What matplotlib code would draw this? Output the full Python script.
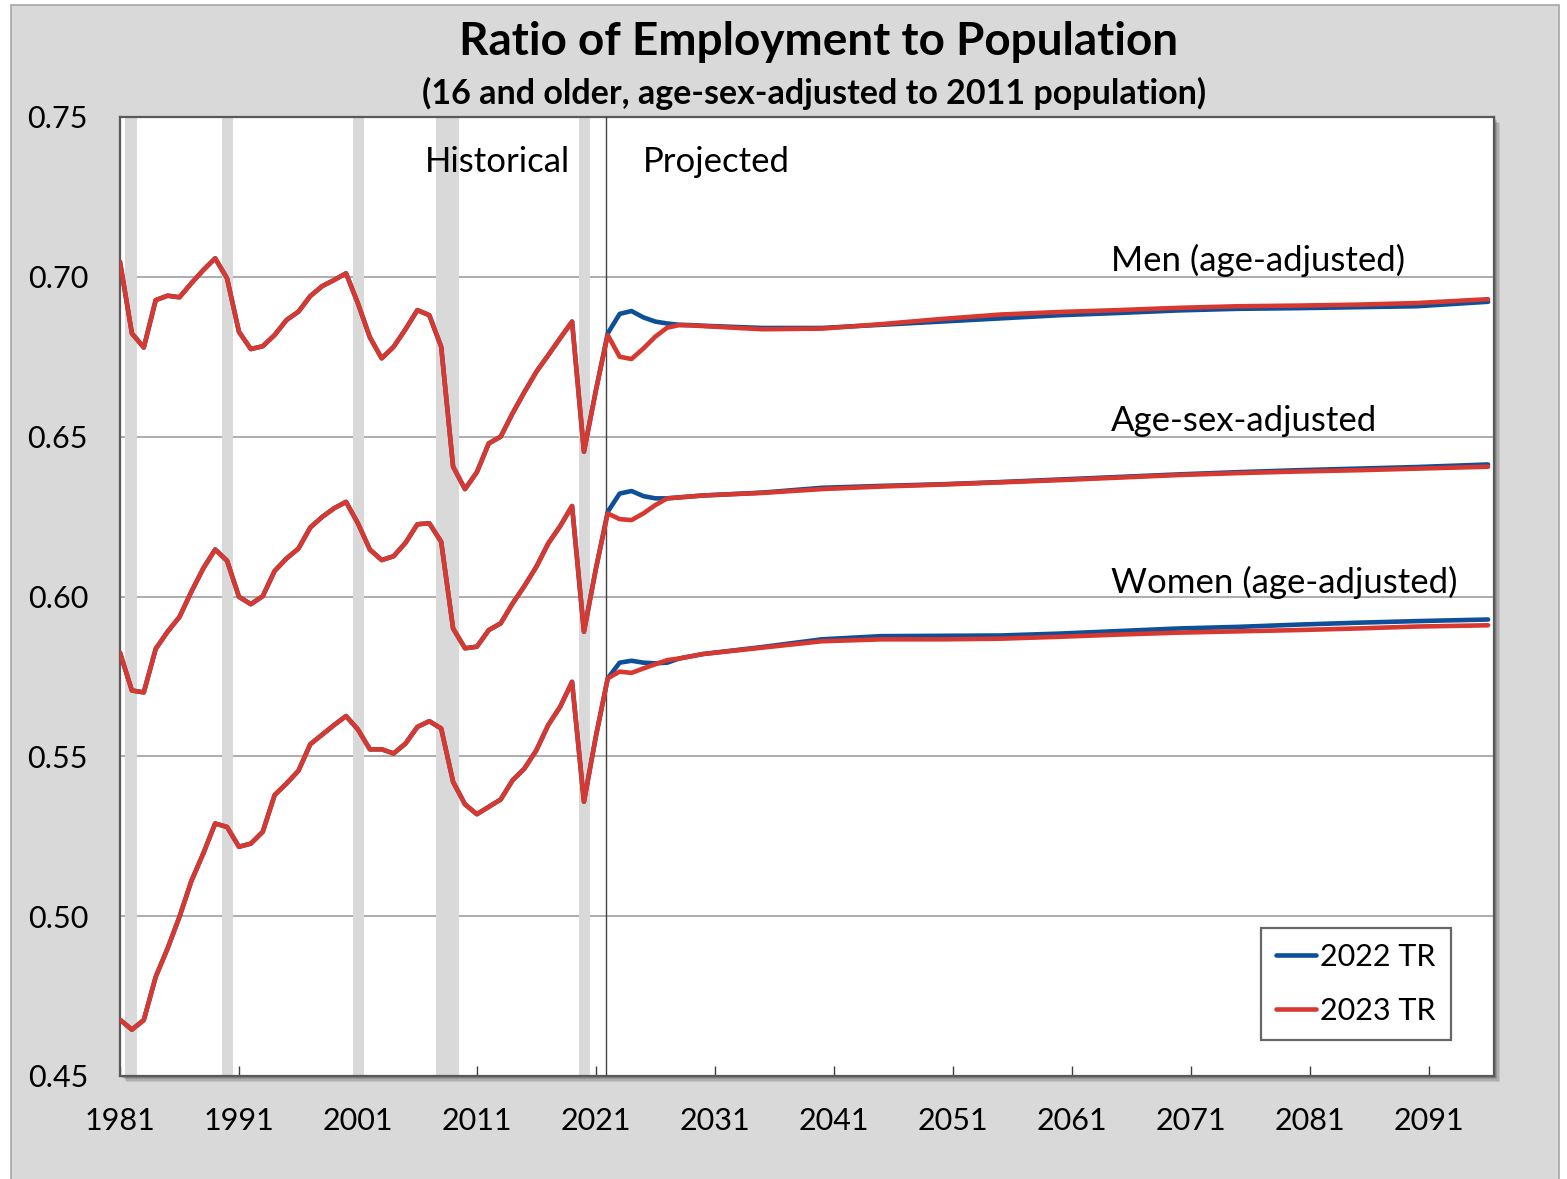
import matplotlib
matplotlib.use("Agg")
import matplotlib.pyplot as plt
from matplotlib.patches import Rectangle
import numpy as np

plt.rcParams['font.family'] = ['Lato', 'DejaVu Sans']

# ---------------- data ----------------
hist_years = list(range(1981, 2022))
men_hist = [0.7047, 0.6823, 0.6779, 0.6927, 0.6941, 0.6936, 0.6980, 0.7021, 0.7058, 0.6995,
            0.6828, 0.6774, 0.6783, 0.6818, 0.6865, 0.6891, 0.6940, 0.6971, 0.6990, 0.7011,
            0.6917, 0.6811, 0.6745, 0.6781, 0.6836, 0.6896, 0.6880, 0.6781, 0.6406, 0.6336,
            0.6389, 0.6479, 0.6500, 0.6573, 0.6640, 0.6703, 0.6755, 0.6808, 0.6860, 0.6453,
            0.6644]
agesex_hist = [0.5824, 0.5706, 0.5700, 0.5836, 0.5890, 0.5936, 0.6015, 0.6088, 0.6147, 0.6112,
               0.5999, 0.5976, 0.6001, 0.6080, 0.6119, 0.6150, 0.6216, 0.6249, 0.6276, 0.6296,
               0.6229, 0.6147, 0.6114, 0.6126, 0.6168, 0.6226, 0.6229, 0.6171, 0.5900, 0.5838,
               0.5843, 0.5895, 0.5916, 0.5978, 0.6033, 0.6093, 0.6166, 0.6220, 0.6283, 0.5890,
               0.6086]
women_hist = [0.4676, 0.4645, 0.4675, 0.4810, 0.4899, 0.4998, 0.5110, 0.5196, 0.5290, 0.5279,
              0.5217, 0.5227, 0.5264, 0.5379, 0.5415, 0.5455, 0.5538, 0.5568, 0.5598, 0.5626,
              0.5584, 0.5522, 0.5522, 0.5509, 0.5540, 0.5592, 0.5610, 0.5587, 0.5420, 0.5350,
              0.5319, 0.5342, 0.5365, 0.5425, 0.5462, 0.5519, 0.5598, 0.5655, 0.5733, 0.5358,
              0.5562]

proj_years = [2022, 2023, 2024, 2025, 2026, 2027, 2028, 2029, 2030, 2035, 2040,
              2045, 2050, 2055, 2060, 2065, 2070, 2075, 2080, 2085, 2090, 2096]
men_2022tr = [0.6823, 0.6884, 0.6893, 0.6873, 0.6860, 0.6854, 0.6850, 0.6849, 0.6847, 0.6840, 0.6840,
              0.6850, 0.6860, 0.6870, 0.6880, 0.6887, 0.6895, 0.6900, 0.6902, 0.6905, 0.6908, 0.6922]
men_2023tr = [0.6818, 0.6750, 0.6743, 0.6776, 0.6813, 0.6841, 0.6849, 0.6848, 0.6846, 0.6836, 0.6838,
              0.6852, 0.6868, 0.6882, 0.6890, 0.6896, 0.6903, 0.6908, 0.6910, 0.6913, 0.6918, 0.6930]
agesex_2022tr = [0.6265, 0.6322, 0.6330, 0.6314, 0.6307, 0.6307, 0.6310, 0.6313, 0.6316, 0.6325, 0.6340,
                 0.6346, 0.6351, 0.6358, 0.6366, 0.6374, 0.6382, 0.6389, 0.6395, 0.6400, 0.6405, 0.6413]
agesex_2023tr = [0.6260, 0.6242, 0.6239, 0.6260, 0.6286, 0.6307, 0.6310, 0.6313, 0.6316, 0.6324, 0.6336,
                 0.6344, 0.6350, 0.6357, 0.6364, 0.6372, 0.6380, 0.6386, 0.6391, 0.6395, 0.6400, 0.6406]
women_2022tr = [0.5744, 0.5793, 0.5799, 0.5793, 0.5791, 0.5793, 0.5806, 0.5813, 0.5820, 0.5842, 0.5866,
                0.5876, 0.5877, 0.5878, 0.5884, 0.5892, 0.5900, 0.5905, 0.5912, 0.5918, 0.5923, 0.5928]
women_2023tr = [0.5744, 0.5765, 0.5761, 0.5775, 0.5788, 0.5801, 0.5806, 0.5813, 0.5820, 0.5840, 0.5860,
                0.5866, 0.5866, 0.5868, 0.5874, 0.5881, 0.5887, 0.5891, 0.5895, 0.5900, 0.5906, 0.5910]

recessions = [(1981.4, 1982.4), (1989.6, 1990.5), (2000.6, 2001.5), (2007.6, 2009.5), (2019.6, 2020.5)]
projection_start = 2021.85
x_ticks = list(range(1981, 2092, 10))
y_ticks = [0.45, 0.50, 0.55, 0.60, 0.65, 0.70, 0.75]
series_labels = ["Men (age-adjusted)", "Age-sex-adjusted", "Women (age-adjusted)"]
label_pos = [(2064.3, 0.7050), (2064.3, 0.6550), (2064.3, 0.6045)]
legend_labels = ["2022 TR", "2023 TR"]

BLUE = '#0d4f98'
RED = '#d7382f'

# ---------------- figure ----------------
W, H = 1567, 1179
fig = plt.figure(figsize=(W / 100, H / 100), dpi=100, facecolor='white')

# gray chart background
fig.patches.append(Rectangle((11 / W, -0.01), (1559 - 11) / W, 1.01 - 5 / H,
                             transform=fig.transFigure, facecolor='#d9d9d9',
                             edgecolor='#a6a6a6', linewidth=1.2, zorder=0))

ax_l, ax_r, ax_t, ax_b = 120, 1494, 117, 1076
pos = [ax_l / W, 1 - ax_b / H, (ax_r - ax_l) / W, (ax_b - ax_t) / H]

# drop shadow of plot area
for i, a in enumerate([0.10, 0.10, 0.12, 0.14]):
    off = 6 - i * 1.3
    fig.patches.append(Rectangle((pos[0] + off / W, pos[1] - off / H), pos[2], pos[3],
                                 transform=fig.transFigure, facecolor='black', alpha=a,
                                 edgecolor='none', zorder=0.5))

ax = fig.add_axes(pos)
ax.set_facecolor('white')
ax.set_zorder(2)

ax.set_xlim(1981, 2096.5)
ax.set_ylim(0.45, 0.75)

# gridlines
for yv in y_ticks[1:-1]:
    ax.axhline(yv, color='#a6a6a6', lw=1.3, zorder=1)

# recession bars
for a, b in recessions:
    ax.axvspan(a, b, color='#d9d9d9', lw=0, zorder=2)

ax.axvline(projection_start, color='#404040', lw=1.0, zorder=3)

lw = 3.3
for hist, p22, p23 in [(men_hist, men_2022tr, men_2023tr),
                       (agesex_hist, agesex_2022tr, agesex_2023tr),
                       (women_hist, women_2022tr, women_2023tr)]:
    ax.plot(hist_years + proj_years, hist + p22, color=BLUE, lw=lw, zorder=4,
            solid_joinstyle='round', solid_capstyle='round')
    ax.plot(hist_years + proj_years, hist + p23, color=RED, lw=lw, zorder=5,
            solid_joinstyle='round', solid_capstyle='round')

# labels
for lab, (xx, yy) in zip(series_labels, label_pos):
    ax.text(xx, yy, lab, fontsize=25, color='black', ha='left', va='center', zorder=6)
ax.text(2018.8, 0.7359, "Historical", fontsize=25, ha='right', va='center', zorder=6)
ax.text(2024.95, 0.7359, "Projected", fontsize=25, ha='left', va='center', zorder=6)

# ticks
ax.set_xticks(x_ticks)
ax.set_xticklabels([str(t) for t in x_ticks], fontsize=22)
ax.set_yticks(y_ticks)
ax.set_yticklabels([f"{t:.2f}" for t in y_ticks], fontsize=22)
ax.tick_params(axis='x', direction='in', length=7, width=1.0, color='#404040', pad=22)
ax.tick_params(axis='y', length=0, pad=23)

for s in ax.spines.values():
    s.set_color('#595959')
    s.set_linewidth(1.6)

# legend
leg = ax.legend([plt.Line2D([], [], color=BLUE, lw=lw, solid_capstyle='round'),
                 plt.Line2D([], [], color=RED, lw=lw, solid_capstyle='round')],
                legend_labels, loc='lower right', bbox_to_anchor=(0.9687, 0.0375),
                fontsize=22, frameon=True, fancybox=False, handlelength=1.3,
                handletextpad=0.15, labelspacing=0.85, borderpad=0.5, borderaxespad=0)
leg.get_frame().set_edgecolor('#404040')
leg.get_frame().set_linewidth(1.6)
leg.set_zorder(7)

# titles
fig.text(0.5225, 1 - 42 / H, "Ratio of Employment to Population", fontsize=33,
         fontweight='bold', ha='center', va='center')
fig.text(0.5195, 1 - 93 / H, "(16 and older, age-sex-adjusted to 2011 population)", fontsize=24.5,
         fontweight='bold', ha='center', va='center')

fig.savefig("out.png", dpi=100, facecolor=fig.get_facecolor())
